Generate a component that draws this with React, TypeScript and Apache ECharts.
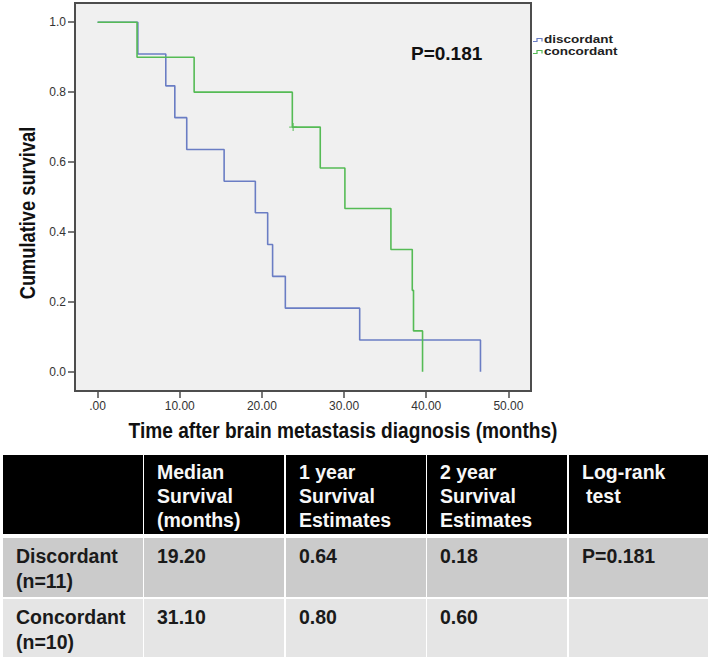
import React, { useEffect, useRef } from "react";
import * as echarts from "echarts";

// ---- Kaplan-Meier data ----
const discordantTime = [0, 4.9, 8.3, 9.4, 10.85, 15.4, 19.2, 20.7, 21.3, 22.85, 31.9, 46.6];
const discordantSurvival = [1.0, 0.909, 0.818, 0.727, 0.636, 0.545, 0.455, 0.364, 0.273, 0.182, 0.091, 0.0];
const concordantTime = [0, 4.8, 11.75, 23.7, 27.1, 30.1, 35.7, 38.3, 38.45, 39.55];
const concordantSurvival = [1.0, 0.9, 0.8, 0.7, 0.583, 0.467, 0.35, 0.233, 0.117, 0.0];
const concordantCensorTime = [23.8];
const concordantCensorSurvival = [0.7];

const xTicks = [0, 10, 20, 30, 40, 50];
const yTicks = [0, 0.2, 0.4, 0.6, 0.8, 1.0];
const seriesNames = ["discordant", "concordant"];
const pValueLabel = "P=0.181";
const xTitle = "Time after brain metastasis diagnosis (months)";
const yTitle = "Cumulative survival";

// ---- Table ----
const tableHeaders = [
  [],
  ["Median", "Survival", "(months)"],
  ["1 year", "Survival", "Estimates"],
  ["2 year", "Survival", "Estimates"],
  ["Log-rank", "test"],
];
const tableRowLabels = [
  ["Discordant", "(n=11)"],
  ["Concordant", "(n=10)"],
];
const medianSurvival = ["19.20", "31.10"];
const oneYearSurvival = ["0.64", "0.80"];
const twoYearSurvival = ["0.18", "0.60"];
const logRankTest = ["P=0.181", ""];

const BLUE = "#6a7dc4";
const GREEN = "#55bb55";
const FRAME = "#4d4d4d";
const FONT = "'Liberation Sans', Arial, Helvetica, sans-serif";

function buildOption() {
  const graphic: any[] = [];

  // p-value in plot
  graphic.push({
    type: "text",
    x: 411,
    y: 53,
    silent: true,
    style: {
      text: pValueLabel,
      font: `bold 19px ${FONT}`,
      fill: "#111",
      verticalAlign: "middle",
      align: "left",
    },
  });

  // legend
  const legendColors = [BLUE, GREEN];
  const legendY = [40, 52];
  seriesNames.forEach((name, i) => {
    const cy = legendY[i];
    graphic.push({
      type: "polyline",
      silent: true,
      shape: {
        points: [
          [533, cy + 1.5],
          [537, cy + 1.5],
          [537, cy - 1.5],
          [542, cy - 1.5],
          [542, cy + 1.5],
        ],
      },
      style: { stroke: legendColors[i], lineWidth: 1.2, fill: null },
    });
    graphic.push({
      type: "text",
      x: 544,
      y: cy,
      scaleX: 1.35,
      silent: true,
      style: {
        text: name,
        font: `bold 10px ${FONT}`,
        fill: "#222",
        verticalAlign: "middle",
        align: "left",
      },
    });
  });

  // axis titles
  graphic.push({
    type: "text",
    x: 343,
    y: 430,
    scaleX: 0.85,
    silent: true,
    style: {
      text: xTitle,
      font: `bold 22.5px ${FONT}`,
      fill: "#111",
      align: "center",
      verticalAlign: "middle",
    },
  });
  graphic.push({
    type: "text",
    x: 27,
    y: 213,
    rotation: Math.PI / 2,
    scaleX: 0.85,
    silent: true,
    style: {
      text: yTitle,
      font: `bold 21.5px ${FONT}`,
      fill: "#111",
      align: "center",
      verticalAlign: "middle",
    },
  });

  // table
  const colX = [3, 144, 286, 427, 569];
  const colW = [140, 140, 140, 140, 139];
  const headerTop = 455;
  const headerH = 79;
  const rowTops = [538, 599];
  const rowHs = [59, 58];
  const rowFills = ["#cbcbcb", "#e5e5e5"];
  const headerLineY = [472, 496, 520];
  const rowLineOffsets = [18, 42.5];
  const tableFont = `bold 19.5px ${FONT}`;

  colX.forEach((x, c) => {
    graphic.push({
      type: "rect",
      silent: true,
      shape: { x, y: headerTop, width: colW[c], height: headerH },
      style: { fill: "#000" },
    });
    const lines = tableHeaders[c];
    lines.forEach((t: string, li: number) => {
      graphic.push({
        type: "text",
        x: x + 13 + (c === 4 && li === 1 ? 4 : 0),
        y: headerLineY[li],
        silent: true,
        style: { text: t, font: tableFont, fill: "#f7f7f7", verticalAlign: "middle", align: "left" },
      });
    });
  });

  const rowCells = tableRowLabels.map((lbl, r) => [
    lbl,
    [medianSurvival[r]],
    [oneYearSurvival[r]],
    [twoYearSurvival[r]],
    [logRankTest[r]],
  ]);

  rowCells.forEach((cells, r) => {
    colX.forEach((x, c) => {
      graphic.push({
        type: "rect",
        silent: true,
        shape: { x, y: rowTops[r], width: colW[c], height: rowHs[r] },
        style: { fill: rowFills[r] },
      });
      cells[c].forEach((t: string, li: number) => {
        if (!t) return;
        graphic.push({
          type: "text",
          x: x + 13,
          y: rowTops[r] + rowLineOffsets[li],
          silent: true,
          style: { text: t, font: tableFont, fill: "#1a1a1a", verticalAlign: "middle", align: "left" },
        });
      });
    });
  });

  const discData = discordantTime.map((t, i) => [t, discordantSurvival[i]]);
  const concData = concordantTime.map((t, i) => [t, concordantSurvival[i]]);
  const censorData = concordantCensorTime.map((t, i) => [t, concordantCensorSurvival[i]]);

  return {
    animation: false,
    backgroundColor: "#ffffff",
    textStyle: { fontFamily: FONT },
    grid: {
      left: 75,
      top: 3,
      width: 456,
      height: 388,
      show: true,
      backgroundColor: "#f0f0f0",
      borderColor: FRAME,
      borderWidth: 2,
    },
    xAxis: {
      type: "value",
      min: -2.75,
      max: 52.75,
      splitLine: { show: false },
      axisLine: { show: true, onZero: false, lineStyle: { color: FRAME, width: 2 } },
      axisTick: { show: true, customValues: xTicks, length: 7, lineStyle: { color: FRAME, width: 1.5 } },
      axisLabel: {
        customValues: xTicks,
        formatter: (v: number) => (v === 0 ? ".00" : v.toFixed(2)),
        fontSize: 12,
        color: "#333",
        margin: 9,
        fontFamily: FONT,
      },
    },
    yAxis: {
      type: "value",
      min: -0.055,
      max: 1.055,
      splitLine: { show: false },
      axisLine: { show: true, onZero: false, lineStyle: { color: FRAME, width: 2 } },
      axisTick: { show: true, customValues: yTicks, length: 7, lineStyle: { color: FRAME, width: 1.5 } },
      axisLabel: {
        customValues: yTicks,
        formatter: (v: number) => v.toFixed(1),
        fontSize: 12,
        color: "#333",
        margin: 9,
        fontFamily: FONT,
      },
    },
    series: [
      {
        name: seriesNames[0],
        type: "line",
        step: "end",
        data: discData,
        symbol: "none",
        lineStyle: { color: BLUE, width: 1.6 },
        z: 2,
      },
      {
        name: seriesNames[1],
        type: "line",
        step: "end",
        data: concData,
        symbol: "none",
        lineStyle: { color: GREEN, width: 1.6 },
        z: 3,
      },
      {
        name: seriesNames[1] + " censored",
        type: "scatter",
        data: censorData,
        symbol: "path://M4.2,0 L5.8,0 L5.8,4.2 L10,4.2 L10,5.8 L5.8,5.8 L5.8,10 L4.2,10 L4.2,5.8 L0,5.8 L0,4.2 L4.2,4.2 Z",
        symbolSize: 8,
        itemStyle: { color: GREEN },
        z: 4,
      },
    ],
    graphic,
  };
}

export default function App() {
  const ref = useRef<HTMLDivElement>(null);
  useEffect(() => {
    if (!ref.current) return;
    const chart = echarts.init(ref.current, null, { renderer: "svg" });
    chart.setOption(buildOption() as any);
    return () => chart.dispose();
  }, []);
  return (
    <div
      ref={ref}
      style={{ position: "fixed", left: 0, top: 0, width: 711, height: 663, background: "#fff" }}
    />
  );
}
